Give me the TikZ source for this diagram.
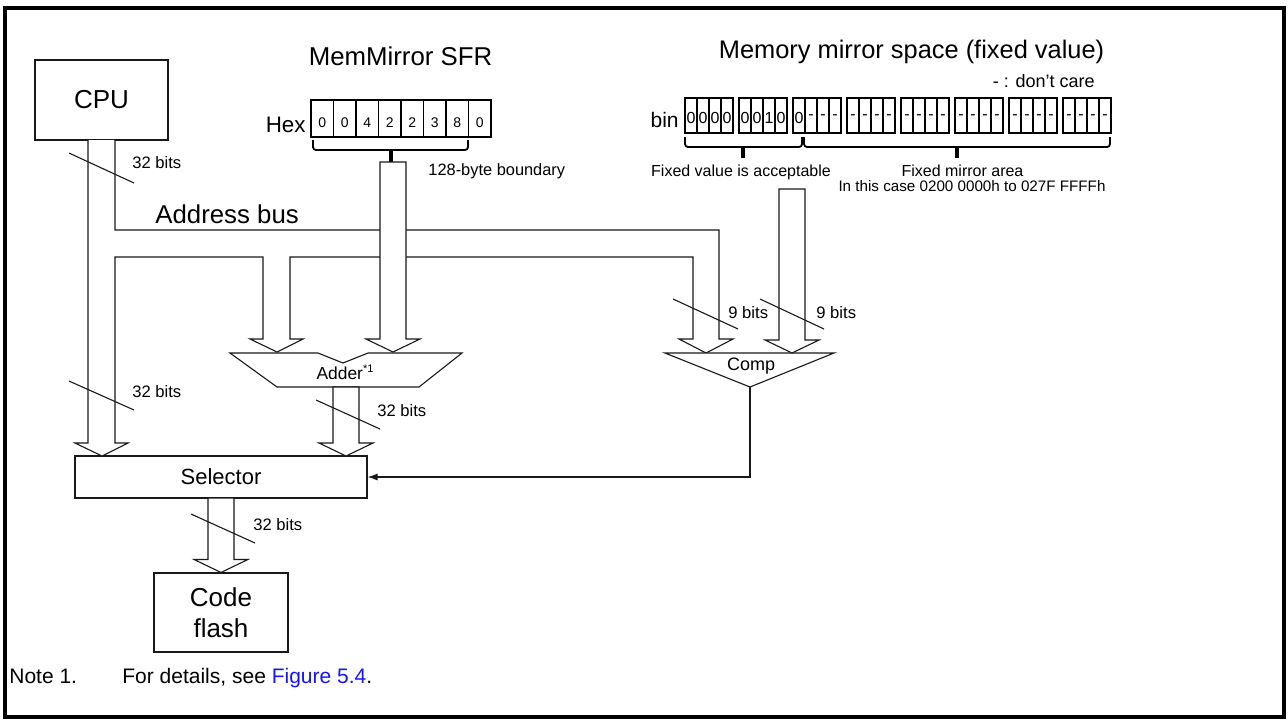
\documentclass[tikz,border=0pt]{standalone}
\usepackage{fontspec}
\setmainfont{Liberation Sans}
\usetikzlibrary{calc,arrows.meta}
\newcommand\fsz[1]{\fontsize{#1}{#1}\selectfont}
\newcommand\hollowarrow[2]{%
  \draw[bus] ($(#1)+(-13,0)$) -- ($(#2)+(-13,-13)$) -- ($(#2)+(-27,-13)$) -- (#2)
     -- ($(#2)+(27,-13)$) -- ($(#2)+(13,-13)$) -- ($(#1)+(13,0)$) -- cycle;}
\definecolor{linkblue}{RGB}{20,20,255}
\begin{document}
\begin{tikzpicture}[x=0.5pt,y=-0.5pt,line join=miter,
  ln/.style={draw=black!90,line width=0.55pt},
  bus/.style={draw=black!90,line width=0.55pt,fill=white},
  blk/.style={draw=black!90,line width=0.55pt,fill=white,inner sep=0pt,align=center},
  hexcell/.style={draw=black,line width=0.6pt,inner sep=0pt,minimum width=11.25pt,minimum height=18.5pt},
  bincell/.style={draw=black,line width=0.6pt,inner sep=0pt,minimum width=6pt,minimum height=17.5pt},
  brace/.style={draw=black,line width=0.9pt,rounded corners=1.5pt},
  bits/.style={font=\fsz{8.3},anchor=base west,inner sep=0pt},
  lbl/.style={inner sep=0pt}]
\useasboundingbox (0,0) rectangle (1288,725);
% frame
\draw[line width=1.6pt] (5,8) rectangle (1284,717);

% main blocks
\node[blk,minimum width=66.5pt,minimum height=40pt,font=\fsz{13}] (cpu) at (101.5,100) {CPU};
\node[blk,minimum width=146pt,minimum height=21pt,font=\fsz{11}] (sel) at (221,477) {Selector};
\node[blk,minimum width=67pt,minimum height=39.5pt,font=\fontsize{13}{15.5}\selectfont] (flash) at (221,612.5) {Code\\flash};

% address bus with branches
\draw[bus] (88,140) -- (88,443) -- (75,443) -- (102,456) -- (128,443) -- (115,443)
  -- (115,257) -- (263,257) -- (263,339) -- (250,339) -- (277,352) -- (303,339) -- (290,339)
  -- (290,257) -- (693,257) -- (693,339) -- (679,339) -- (706,353) -- (733,339) -- (719,339)
  -- (719,230) -- (115,230) -- (115,140);
\node[lbl,anchor=base west,font=\fsz{12.9}] (abus) at (155,223) {Address bus};

% MemMirror SFR
\node[lbl,anchor=base,font=\fsz{12.9}] (mmtitle) at (400.5,65) {MemMirror SFR};
\node[lbl,anchor=base east,font=\fsz{11.2}] (hexlbl) at (306,132) {Hex};
\foreach \d [count=\i] in {0,0,4,2,2,3,8,0} {
  \node[hexcell] (hex\i) at ({311+22.5*(\i-0.5)},118.5) {};
  \node[lbl,font=\fsz{7}] at ($(hex\i.center)+(0,4)$) {\d};
}
\draw[brace] (313,140) -- (313,150) -- (468,150) -- (468,140);
\coordinate (mmtop) at (393,162);
\draw[line width=1.6pt] (391,150) -- (391,162);
\node[lbl,bits,font=\fsz{8.2}] (bound) at (428,175) {128-byte boundary};

% adder
\draw[ln,fill=white] (230,353) -- (318,353) -- (343,363) -- (368,353) -- (462,353) -- (419,387) -- (277,387) -- cycle;
\node[lbl,anchor=base,font=\fsz{8.7}] (adder) at (345,379) {Adder\raisebox{0.75ex}{\fsz{5.5}*1}};
\coordinate (mmtip) at (393,352);
\hollowarrow{mmtop}{mmtip}

% adder -> selector
\coordinate (addout) at (346,387);
\coordinate (addtip) at (346,456);
\hollowarrow{addout}{addtip}

% selector -> code flash
\coordinate (selout) at (221,498);
\hollowarrow{selout}{flash.north}

% memory mirror space
\node[lbl,anchor=base,font=\fsz{12.7}] (mstitle) at (911.5,58) {Memory mirror space (fixed value)};
\node[lbl,anchor=base east,font=\fsz{9}] (dc) at (1095,87) {- : don’t care};
\node[lbl,anchor=base east,font=\fsz{10.5}] (binlbl) at (679,127) {bin};
\foreach \g/\s in {0/{0,0,0,0},1/{0,0,1,0},2/{0,-,-,-},3/{-,-,-,-},4/{-,-,-,-},5/{-,-,-,-},6/{-,-,-,-},7/{-,-,-,-}} {
  \foreach \d [count=\c from 0] in \s {
    \node[bincell] (bin-\g-\c) at ({685+54*\g+12*\c+6},115.5) {};
    \node[lbl,font=\fsz{8}] at ($(bin-\g-\c.center)+(0,2)$) {\d};
  }
}
\draw[brace] (685,137) -- (685,147) -- (802,147) -- (802,137);
\draw[line width=1.6pt] (743,147) -- (743,158);
\draw[brace] (804,137) -- (804,147) -- (1110,147) -- (1110,137);
\draw[line width=1.6pt] (957,147) -- (957,158);
\node[lbl,anchor=base,font=\fsz{8}] (fva) at (741,176) {Fixed value is acceptable};
\node[lbl,anchor=base,font=\fsz{8}] (fma) at (962.5,176) {Fixed mirror area};
\node[lbl,anchor=base,font=\fsz{7.6}] (case) at (972,191) {In this case 0200 0000h to 027F FFFFh};

% comparator
\draw[ln,fill=white] (665,353) -- (834,353) -- (750,387) -- cycle;
\coordinate (compout) at (750,387);
\node[lbl,anchor=base,font=\fsz{9}] (comp) at (751,370) {Comp};
\coordinate (mstop) at (792,189);
\coordinate (mstip) at (792,353);
\hollowarrow{mstop}{mstip}
\draw[ln,-{Latex[length=5pt,width=3.5pt]}] (compout) |- (sel.east);

% bit-width slashes
\draw[ln] (69,153) -- (134,183);
\node[bits] at (132,168) {32 bits};
\draw[ln] (69,381) -- (134,410);
\node[bits] at (132,397) {32 bits};
\draw[ln] (316,400) -- (380,429);
\node[bits] at (377,416) {32 bits};
\draw[ln] (191,514) -- (255,543);
\node[bits] at (253,530) {32 bits};
\draw[ln] (673,299) -- (738,329);
\node[bits] at (728,318) {9 bits};
\draw[ln] (760,299) -- (824,329);
\node[bits] at (816,318) {9 bits};

% note
\node[lbl,anchor=base west,font=\fsz{10.5}] (note) at (9,683) {Note 1.};
\node[lbl,anchor=base west,font=\fsz{10.5}] (notetext) at (122,683) {For details, see \textcolor{linkblue}{Figure 5.4}.};
\end{tikzpicture}
\end{document}
